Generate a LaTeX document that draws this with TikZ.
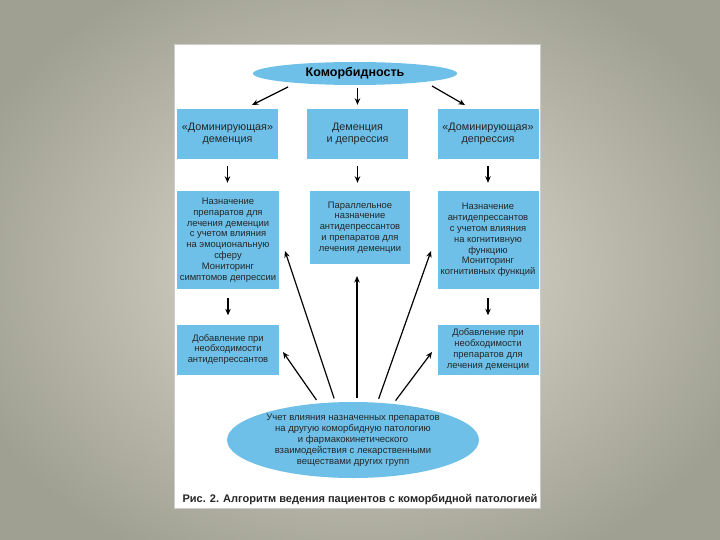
\documentclass[tikz,border=0pt]{standalone}
\usepackage{fontspec}
\setmainfont{Liberation Sans}
\usetikzlibrary{shapes.geometric,arrows.meta}
\definecolor{boxblue}{RGB}{110,192,232}
\definecolor{bgedge}{RGB}{160,160,146}
\definecolor{bgmid}{RGB}{224,222,208}
\tikzset{
  bx/.style={rectangle, fill=boxblue, align=center, inner sep=0pt, font=\fontsize{9.4}{10.8}\selectfont, text=black!85},
  topbx/.style={bx, font=\fontsize{10.8}{12.5}\selectfont},
  ell/.style={ellipse, fill=boxblue, align=center, inner sep=0pt},
  arr/.style={-{Stealth[length=6.5pt,width=5.5pt]}, line width=1.2pt, black},
}
\begin{document}
\begin{tikzpicture}[x=1pt,y=-1pt]
\useasboundingbox (0,0) rectangle (720,540);
\shade[inner color=bgmid, outer color=bgedge] (-60,-60) rectangle (780,600);
\fill[white, draw=gray!40] (174,44) rectangle (540,508);

\node[ell, minimum width=204pt, minimum height=23pt, font=\fontsize{12.5}{14}\selectfont\bfseries] (top) at (355,73.5) {Коморбидность};

\node[topbx, minimum width=101pt, minimum height=50pt] (b1l) at (227.5,134) {«Доминирующая»\\деменция};
\node[topbx, minimum width=101pt, minimum height=50pt] (b1m) at (357.5,134) {Деменция\\и депрессия};
\node[topbx, minimum width=101pt, minimum height=50pt] (b1r) at (488,134) {«Доминирующая»\\депрессия};

\node[bx, minimum width=102pt, minimum height=98pt] (b2l) at (228,240) {Назначение\\препаратов для\\лечения деменции\\с учетом влияния\\на эмоциональную\\сферу\\Мониторинг\\симптомов депрессии};
\node[bx, minimum width=100pt, minimum height=73pt] (b2m) at (360,227.5) {Параллельное\\назначение\\антидепрессантов\\и препаратов для\\лечения деменции};
\node[bx, minimum width=101pt, minimum height=98pt] (b2r) at (488,240) {Назначение\\антидепрессантов\\с учетом влияния\\на когнитивную\\функцию\\Мониторинг\\когнитивных функций};

\node[bx, minimum width=102pt, minimum height=50pt] (b3l) at (228,349.5) {Добавление при\\необходимости\\антидепрессантов};
\node[bx, minimum width=101pt, minimum height=50pt] (b3r) at (488,349.5) {Добавление при\\необходимости\\препаратов для\\лечения деменции};

\node[ell, minimum width=252pt, minimum height=76pt, font=\fontsize{9.5}{11}\selectfont, text=black!85] (bot) at (353,440) {Учет влияния назначенных препаратов\\на другую коморбидную патологию\\и фармакокинетического\\взаимодействия с лекарственными\\веществами других групп};

\node[font=\fontsize{11}{12}\selectfont\bfseries, text=black!85] (cap) at (360,500) {Рис. 2. Алгоритм ведения пациентов с коморбидной патологией};

% top arrows
\coordinate (t1s) at (288,87);
\coordinate (t1e) at (252,105);
\coordinate (t3s) at (432,86);
\coordinate (t3e) at (465,105);
\draw[arr] (t1s) -- (t1e);
\draw[arr, shorten <=3pt, shorten >=4pt] (top.south -| b1m.north) -- (b1m.north);
\draw[arr] (t3s) -- (t3e);

% row arrows
\draw[arr, shorten <=7pt, shorten >=8pt] (b1l.south) -- (b1l.south |- b2l.north);
\draw[arr, shorten <=7pt, shorten >=8pt] (b1m.south) -- (b1m.south |- b2m.north);
\draw[arr, shorten <=7pt, shorten >=8pt] (b1r.south) -- (b1r.south |- b2r.north);
\draw[arr, shorten <=9pt, shorten >=9pt] (b2l.south) -- (b2l.south |- b3l.north);
\draw[arr, shorten <=9pt, shorten >=9pt] (b2r.south) -- (b2r.south |- b3r.north);

% bottom arrows
\coordinate (h1) at (283,352);
\coordinate (h2) at (285,251);
\coordinate (h3) at (357,276);
\coordinate (h4) at (431,251);
\coordinate (h5) at (432,352);
\draw[arr, shorten <=4pt] (bot.133) -- (h1);
\draw[arr, shorten <=4pt] (bot.115) -- (h2);
\draw[arr, shorten <=4pt] (bot.north -| h3) -- (h3);
\draw[arr, shorten <=4pt] (bot.57) -- (h4);
\draw[arr, shorten <=4pt] (bot.42) -- (h5);
\end{tikzpicture}
\end{document}
